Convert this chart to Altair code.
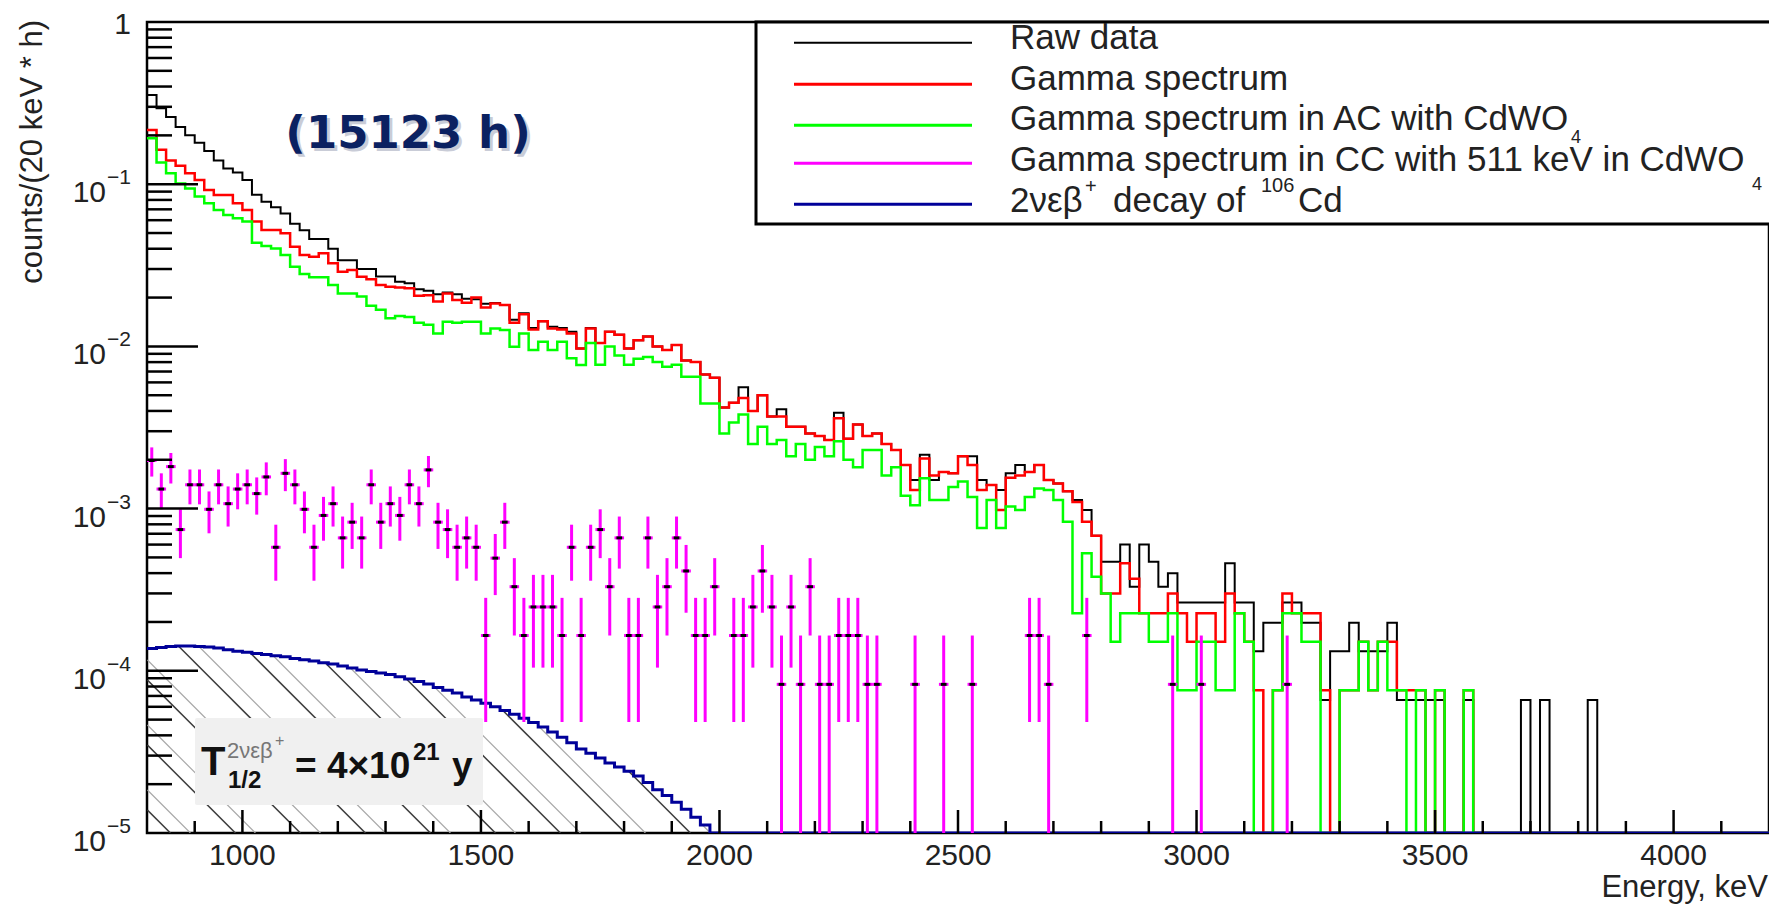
import math
import altair as alt
import pandas as pd

# ---------------------------------------------------------------------------
# Spectrum data: 20 keV bins starting at 800 keV, counts/(20 keV * h)
# ---------------------------------------------------------------------------
E_MIN, E_MAX, BIN_KEV = 800, 4200, 20
Y_MIN, Y_MAX = 1e-5, 1.0
W, H = 1622, 811

raw_data = [
    0.355, 0.294, 0.26, 0.225, 0.20, 0.18, 0.16, 0.14, 0.125, 0.118,
    0.106, 0.086, 0.078, 0.072, 0.066, 0.057, 0.052, 0.046, 0.046, 0.040,
    0.034, 0.034, 0.030, 0.030, 0.027, 0.027, 0.025, 0.0245, 0.0225, 0.022,
    0.021, 0.0215, 0.021, 0.0197, 0.0195, 0.0183, 0.0185, 0.018, 0.0146, 0.016,
    0.013, 0.0143, 0.0132, 0.013, 0.0123, 0.0097, 0.013, 0.0105, 0.0123, 0.0118,
    0.0097, 0.0109, 0.0115, 0.0100, 0.0095, 0.0102, 0.0082, 0.0080, 0.0067, 0.0064,
    0.0042, 0.0045, 0.0056, 0.0040, 0.0050, 0.0037, 0.0041, 0.0032, 0.0032, 0.0029,
    0.0028, 0.00265, 0.0039, 0.0027, 0.0033, 0.0028, 0.0029, 0.0025, 0.0023, 0.00186,
    0.0015, 0.00215, 0.0015, 0.00168, 0.00165, 0.0021, 0.0021, 0.0015, 0.0014, 0.0013,
    0.00165, 0.00186, 0.00168, 0.00186, 0.0015, 0.00143, 0.00128, 0.00113, 0.00098, 0.00068,
    0.00047, 0.00047, 0.0006, 0.00033, 0.0006, 0.00047, 0.00033, 0.0004, 0.000264, 0.000264,
    0.000264, 0.000264, 0.000264, 0.00046, 0.000264, 0.000264, 0.000132, 0.000198, 0.000198, 0.000264,
    0.000264, 0.000198, 0.000198, 0.000066, 0.000132, 0.000132, 0.000198, 0.000132, 0.000132, 0.000132,
    0.000198, 0.000066, 0.000066, 0.000066, 0.000066, 0.000066, 0, 0, 0.000066, 0,
    0, 0, 0, 0, 0.000066, 0, 0.000066, 0, 0, 0,
    0, 0.000066, 0, 0, 0, 0, 0, 0, 0, 0,
    0, 0, 0, 0, 0, 0, 0, 0, 0, 0,
]

gamma_spectrum = [
    0.216, 0.163, 0.14, 0.13, 0.117, 0.106, 0.092, 0.0858, 0.0858, 0.0762,
    0.0693, 0.0588, 0.0522, 0.0522, 0.0498, 0.0412, 0.0366, 0.0357, 0.0375, 0.0325,
    0.0289, 0.0296, 0.0269, 0.0259, 0.0239, 0.0233, 0.0231, 0.0228, 0.0205, 0.0207,
    0.0189, 0.0212, 0.0193, 0.0186, 0.020, 0.0174, 0.0184, 0.018, 0.014, 0.0158,
    0.0127, 0.0143, 0.0129, 0.0127, 0.012, 0.0097, 0.0129, 0.0105, 0.0123, 0.0118,
    0.0097, 0.0109, 0.0115, 0.0100, 0.0095, 0.0102, 0.0082, 0.0080, 0.0067, 0.0064,
    0.0042, 0.0045, 0.0048, 0.0040, 0.0050, 0.0037, 0.0037, 0.0032, 0.0032, 0.0029,
    0.0028, 0.00265, 0.0036, 0.0027, 0.0033, 0.0028, 0.0029, 0.0025, 0.0023, 0.00186,
    0.0013, 0.00204, 0.0016, 0.00168, 0.00165, 0.0021, 0.00186, 0.0013, 0.0014, 0.00098,
    0.00155, 0.0016, 0.00168, 0.00186, 0.0015, 0.00143, 0.00128, 0.0011, 0.00083, 0.00068,
    0.0003, 0.0003, 0.00046, 0.00037, 0.000226, 0.000226, 0.000226, 0.0003, 0.000226, 0.000151,
    0.000226, 0.000226, 0.000151, 0.0003, 0.000226, 0.000151, 0.000076, 0, 0.000076, 0.0003,
    0.000226, 0.000226, 0.000226, 0.000076, 0, 0.000076, 0.000076, 0.000151, 0.000076, 0.000151,
    0.000151, 0.000076, 0.000076, 0.000076, 0, 0.000076, 0, 0, 0.000076, 0,
    0, 0, 0, 0, 0, 0, 0, 0, 0, 0,
    0, 0, 0, 0, 0, 0, 0, 0, 0, 0,
    0, 0, 0, 0, 0, 0, 0, 0, 0, 0,
]

gamma_ac = [
    0.192, 0.136, 0.117, 0.101, 0.094, 0.084, 0.0762, 0.0693, 0.0646, 0.0616,
    0.0588, 0.0436, 0.0416, 0.0402, 0.0366, 0.031, 0.0279, 0.0267, 0.0267, 0.0239,
    0.0212, 0.0212, 0.0203, 0.0178, 0.0168, 0.0149, 0.0154, 0.0152, 0.014, 0.0136,
    0.012, 0.0142, 0.014, 0.0142, 0.0142, 0.012, 0.0129, 0.0126, 0.00996, 0.012,
    0.0095, 0.0107, 0.0095, 0.0107, 0.00844, 0.00768, 0.0105, 0.0077, 0.0100, 0.0088,
    0.0077, 0.0084, 0.0086, 0.0080, 0.0075, 0.0077, 0.0065, 0.0065, 0.00445, 0.00445,
    0.0029, 0.0034, 0.0038, 0.0025, 0.0032, 0.0025, 0.00265, 0.0021, 0.0025, 0.002,
    0.0024, 0.0021, 0.0026, 0.002, 0.0018, 0.0023, 0.0023, 0.0016, 0.0018, 0.0012,
    0.00105, 0.00154, 0.00113, 0.00113, 0.00136, 0.00147, 0.00118, 0.00076, 0.00113, 0.00076,
    0.00103, 0.00098, 0.00118, 0.00133, 0.0013, 0.00113, 0.00083, 0.000226, 0.00053, 0.00038,
    0.0003, 0.000151, 0.000226, 0.000226, 0.000226, 0.000151, 0.000151, 0.000226, 0.000076, 0.000076,
    0.000151, 0.000151, 0.000076, 0.000076, 0.000226, 0.000151, 0, 0, 0.000076, 0.000226,
    0.000226, 0.000151, 0.000151, 0, 0, 0.000076, 0.000076, 0.000151, 0.000076, 0.000151,
    0.000076, 0.000076, 0, 0.000076, 0, 0.000076, 0, 0, 0.000076, 0,
    0, 0, 0, 0, 0, 0, 0, 0, 0, 0,
    0, 0, 0, 0, 0, 0, 0, 0, 0, 0,
    0, 0, 0, 0, 0, 0, 0, 0, 0, 0,
]

# coincidence (CC, 511 keV in CdWO4) spectrum: event counts per bin
cc_counts = [
    24, 16, 22, 9, 17, 17, 12, 17, 13, 16,
    17, 15, 19, 7, 20, 17, 12, 7, 11, 13,
    8, 10, 8, 17, 10, 13, 11, 17, 13, 21,
    10, 9, 7, 8, 7, 2, 6, 10, 4, 2,
    3, 3, 3, 2, 7, 2, 7, 9, 4, 8,
    2, 2, 8, 3, 4, 8, 5, 2, 2, 4,
    0, 2, 2, 3, 5, 3, 1, 3, 1, 4,
    1, 1, 2, 2, 2, 1, 1, 0, 0, 0,
    1, 0, 0, 1, 0, 0, 1, 0, 0, 0,
    0, 0, 2, 2, 1, 0, 0, 0, 2, 0,
    0, 0, 0, 0, 0, 0, 0, 1, 0, 0,
    1, 0, 0, 0, 0, 0, 0, 0, 0, 1,
]
CC_SCALE = 8.25e-5  # counts/(20 keV * h) per event

# 2nu EC beta+ decay of 106Cd for T1/2 = 4e21 y (800 - 2000 keV)
decay_2nu = [
    1.37e-4, 1.39e-4, 1.41e-4, 1.42e-4, 1.42e-4, 1.41e-4, 1.40e-4, 1.38e-4, 1.35e-4, 1.32e-4,
    1.30e-4, 1.28e-4, 1.26e-4, 1.24e-4, 1.22e-4, 1.19e-4, 1.17e-4, 1.15e-4, 1.12e-4, 1.10e-4,
    1.07e-4, 1.04e-4, 1.01e-4, 9.9e-5, 9.7e-5, 9.5e-5, 9.2e-5, 8.9e-5, 8.6e-5, 8.3e-5,
    7.9e-5, 7.6e-5, 7.3e-5, 6.9e-5, 6.6e-5, 6.3e-5, 6.0e-5, 5.7e-5, 5.4e-5, 5.1e-5,
    4.8e-5, 4.5e-5, 4.2e-5, 3.9e-5, 3.6e-5, 3.3e-5, 3.1e-5, 2.9e-5, 2.7e-5, 2.55e-5,
    2.4e-5, 2.25e-5, 2.05e-5, 1.85e-5, 1.7e-5, 1.55e-5, 1.4e-5, 1.25e-5, 1.12e-5, 1.0e-5,
]

x_labels = [1000, 1500, 2000, 2500, 3000, 3500, 4000]
y_labels = [(1.0, "", "1"), (1e-1, "10", "\u22121"), (1e-2, "10", "\u22122"),
            (1e-3, "10", "\u22123"), (1e-4, "10", "\u22124"), (1e-5, "10", "\u22125")]

FONT = "Liberation Sans"
TEXT_COLOR = "#222222"

x_scale = alt.Scale(domain=[E_MIN, E_MAX], nice=False, zero=False)
y_scale = alt.Scale(type="log", domain=[Y_MIN, Y_MAX], nice=False)
N_BINS = (E_MAX - E_MIN) // BIN_KEV


def step_table(values):
    vals = list(values) + [0.0] * (N_BINS - len(values))
    vals.append(vals[-1])
    return pd.DataFrame({
        "E": [E_MIN + BIN_KEV * i for i in range(N_BINS + 1)],
        "v": [max(v, Y_MIN) for v in vals],
    })


def hist_layer(values, color, width):
    return alt.Chart(step_table(values)).mark_line(
        interpolate="step-after", color=color, strokeWidth=width, clip=True
    ).encode(
        x=alt.X("E:Q", scale=x_scale, axis=None),
        y=alt.Y("v:Q", scale=y_scale, axis=None),
    )


# --- hatching below the 2nu EC beta+ curve (45 degree lines) --------------
kx = W / (E_MAX - E_MIN)
ky = H / math.log10(Y_MAX / Y_MIN)


def decay_at(e):
    i = int((e - E_MIN) // BIN_KEV)
    return decay_2nu[i] if 0 <= i < len(decay_2nu) else 0.0


def hatch_segments(offset, spacing=65.0):
    rows = []
    xb = offset
    while xb < W:
        t = 0.0
        while True:
            nt = t + 0.5
            x, y = xb - nt, H - nt
            if x < 0:
                break
            top = -math.log10(max(decay_at(E_MIN + x / kx), Y_MIN)) * ky
            if y < top:
                break
            t = nt
        if t > 2:
            rows.append({
                "E1": E_MIN + xb / kx, "v1": Y_MIN,
                "E2": E_MIN + (xb - t) / kx, "v2": 10 ** (-(H - t) / ky),
            })
        xb += spacing
    return pd.DataFrame(rows)


def hatch_layer(offset, color, width):
    return alt.Chart(hatch_segments(offset)).mark_rule(
        color=color, strokeWidth=width, clip=True
    ).encode(
        x=alt.X("E1:Q", scale=x_scale, axis=None), x2="E2:Q",
        y=alt.Y("v1:Q", scale=y_scale, axis=None), y2="v2:Q",
    )


# --- coincidence points with Poisson errors --------------------------------
cc_rows = []
for i, n in enumerate(cc_counts):
    if n <= 0:
        continue
    c = E_MIN + BIN_KEV * i + BIN_KEV / 2
    v = n * CC_SCALE
    err = math.sqrt(n) * CC_SCALE
    cc_rows.append({"Ec": c, "El": c - BIN_KEV / 2, "Er": c + BIN_KEV / 2,
                    "Edl": c - 6, "Edr": c + 6,
                    "v": v, "lo": max(v - err, Y_MIN), "hi": v + err})
cc_df = pd.DataFrame(cc_rows)

cc_err = alt.Chart(cc_df).mark_rule(color="#ff00ff", strokeWidth=3, clip=True).encode(
    x=alt.X("Ec:Q", scale=x_scale, axis=None),
    y=alt.Y("lo:Q", scale=y_scale, axis=None), y2="hi:Q")
cc_bin = alt.Chart(cc_df).mark_rule(color="#ff00ff", strokeWidth=3, clip=True).encode(
    x=alt.X("El:Q", scale=x_scale, axis=None), x2="Er:Q",
    y=alt.Y("v:Q", scale=y_scale, axis=None))
cc_mark = alt.Chart(cc_df).mark_rule(color="black", strokeWidth=3, clip=True).encode(
    x=alt.X("Edl:Q", scale=x_scale, axis=None), x2="Edr:Q",
    y=alt.Y("v:Q", scale=y_scale, axis=None))

# --- axis ticks (drawn inward) and labels ---------------------------------
xt = pd.DataFrame({"E": list(range(900, E_MAX, 100))})
xt_major = xt[xt["E"] % 500 == 0]
xt_minor = xt[xt["E"] % 500 != 0]


def x_tick_layer(df, length):
    return alt.Chart(df).mark_rule(color="black", strokeWidth=2.5).encode(
        x=alt.X("E:Q", scale=x_scale, axis=None),
        y=alt.value(H), y2=alt.value(H - length))


yt_major = pd.DataFrame({"v": [10.0 ** e for e in range(-4, 0)]})
yt_minor = pd.DataFrame({"v": [m * 10.0 ** e for e in range(-5, 0) for m in range(2, 10)]})


def y_tick_layer(df, length):
    return alt.Chart(df).mark_rule(color="black", strokeWidth=2.5).encode(
        y=alt.Y("v:Q", scale=y_scale, axis=None),
        x=alt.value(0), x2=alt.value(length))


xl_df = pd.DataFrame({"E": x_labels, "t": [str(v) for v in x_labels]})
x_label_layer = alt.Chart(xl_df).mark_text(
    font=FONT, fontSize=30, color=TEXT_COLOR, align="center", baseline="alphabetic"
).encode(x=alt.X("E:Q", scale=x_scale, axis=None), y=alt.value(H + 32), text="t:N")

yl_df = pd.DataFrame({"v": [r[0] for r in y_labels],
                      "base": [r[1] for r in y_labels],
                      "sup": [r[2] for r in y_labels]})
y_base_layer = alt.Chart(yl_df[yl_df["base"] != ""]).mark_text(
    font=FONT, fontSize=30, color=TEXT_COLOR, align="right", baseline="alphabetic", dy=18
).encode(y=alt.Y("v:Q", scale=y_scale, axis=None), x=alt.value(-41), text="base:N")
y_sup_layer = alt.Chart(yl_df[yl_df["base"] != ""]).mark_text(
    font=FONT, fontSize=21, color=TEXT_COLOR, align="right", baseline="alphabetic"
).encode(y=alt.Y("v:Q", scale=y_scale, axis=None), x=alt.value(-16), text="sup:N")
y_one_layer = alt.Chart(yl_df[yl_df["base"] == ""]).mark_text(
    font=FONT, fontSize=30, color=TEXT_COLOR, align="right", baseline="alphabetic", dy=12
).encode(y=alt.Y("v:Q", scale=y_scale, axis=None), x=alt.value(-16), text="sup:N")

one = pd.DataFrame({"a": [0]})


def label(text, x, y, size=35, color=TEXT_COLOR, weight="normal", align="left",
          angle=0, font=FONT, **kw):
    return alt.Chart(one).mark_text(
        text=text, font=font, fontSize=size, color=color, fontWeight=weight,
        align=align, baseline="alphabetic", angle=angle, **kw
    ).encode(x=alt.value(x), y=alt.value(y))


def rule(x1, x2, y, color, width):
    return alt.Chart(one).mark_rule(color=color, strokeWidth=width).encode(
        x=alt.value(x1), x2=alt.value(x2), y=alt.value(y))


def box(x1, x2, y1, y2, fill, stroke=None, width=0, radius=0):
    kw = {"fill": fill, "strokeWidth": width, "cornerRadius": radius}
    if stroke:
        kw["stroke"] = stroke
    return alt.Chart(one).mark_rect(**kw).encode(
        x=alt.value(x1), x2=alt.value(x2), y=alt.value(y1), y2=alt.value(y2))


# --- legend ---------------------------------------------------------------
legend_entries = [
    ("Raw data", "black", 2, 20.7, 27),
    ("Gamma spectrum", "#ff0000", 3, 62.3, 68),
    ("Gamma spectrum in AC with CdWO", "#00ff00", 3, 103.3, 108),
    ("Gamma spectrum in CC with 511 keV in CdWO", "#ff00ff", 3, 141.3, 149),
    ("2\u03bd\u03b5\u03b2", "#000099", 3, 182.3, 190),
]
legend_layers = [box(609, 1700, 0, 202, "white", "black", 3)]
for text, color, lw, ly, base in legend_entries:
    legend_layers.append(rule(647, 825, ly, color, lw))
    legend_layers.append(label(text, 863, base))
legend_layers += [
    label("4", 1424, 121, size=18),
    label("4", 1605, 168, size=18),
    label("+", 938, 171, size=20),
    label("decay of", 966, 190),
    label("106", 1114, 170, size=20),
    label("Cd", 1151, 190),
]

# --- half-life annotation box ---------------------------------------------
halflife_layers = [
    box(48, 336, 696, 783, "#f0f0f0", radius=2),
    label("T", 54, 753, size=40, weight="bold", color="#111111"),
    label("2\u03bd\u03b5\u03b2", 80, 736, size=22, color="#777777"),
    label("+", 128, 724, size=16, color="#777777"),
    label("1/2", 81, 766, size=24, weight="bold", color="#111111"),
    label("= 4\u00d710", 148, 756, size=37, weight="bold", color="#111111"),
    label("21", 266, 738, size=24, weight="bold", color="#111111"),
    label("y", 305, 756, size=37, weight="bold", color="#111111"),
]

MEASURE_FONT = "DejaVu Sans"
measure_layers = [
    label("(15123 h)", 264, 129, size=45, weight="bold", color="#9ea4b8",
          align="center", opacity=0.55, font=MEASURE_FONT),
    label("(15123 h)", 261, 126, size=45, weight="bold", color="#0b2161",
          align="center", font=MEASURE_FONT),
]

axis_title_layers = [
    label("Energy, keV", 1621, 875, size=31, align="right"),
    label("counts/(20 keV * h)", -105, -2, size=31, align="right", angle=270),
]

layers = [
    hatch_layer(43.4, "#a8a8a8", 1.2),
    hatch_layer(23.4, "#3c3c3c", 1.5),
    *halflife_layers,
    hist_layer(raw_data, "black", 2),
    hist_layer(gamma_spectrum, "#ff0000", 2.5),
    hist_layer(gamma_ac, "#00ff00", 2.5),
    hist_layer(decay_2nu, "#000099", 3),
    cc_err, cc_bin, cc_mark,
    x_tick_layer(xt_major, 23), x_tick_layer(xt_minor, 12),
    y_tick_layer(yt_major, 51), y_tick_layer(yt_minor, 25),
    x_label_layer, y_base_layer, y_sup_layer, y_one_layer,
    *legend_layers,
    *measure_layers,
    *axis_title_layers,
]

chart = alt.layer(*layers).properties(
    width=W, height=H,
    padding={"left": 147, "top": 22, "right": 0, "bottom": 71},
    autosize=alt.AutoSizeParams(type="none"),
    background="white",
).configure_view(stroke="black", strokeWidth=2.5)

chart.save("out.html", embed_options={"renderer": "svg", "actions": False})
